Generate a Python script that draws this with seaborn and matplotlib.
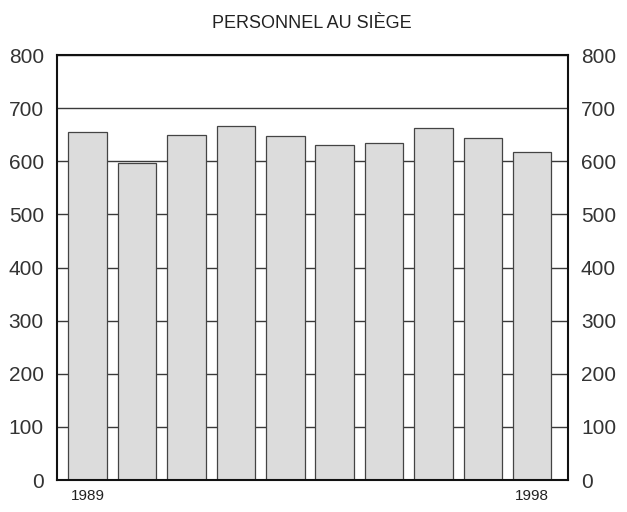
#!/usr/bin/env python3
"""
Staff at headquarters, 1989-1998 (bar chart).
"""
import matplotlib
matplotlib.use('Agg')
import matplotlib.pyplot as plt
import seaborn as sns

# Data
years = ['1989', '1990', '1991', '1992', '1993', '1994', '1995', '1996', '1997', '1998']
staff = [655, 597, 649, 667, 648, 631, 634, 662, 643, 618]
year_labels = ['1989', '', '', '', '', '', '', '', '', '1998']
y_ticks = [0, 100, 200, 300, 400, 500, 600, 700, 800]

TITLE = 'PERSONNEL AU SIÈGE'


def main():
    sns.set_style('white')
    plt.rcParams['font.family'] = ['Liberation Sans', 'DejaVu Sans']

    fig = plt.figure(figsize=(6.27, 5.12), dpi=100)
    ax = fig.add_axes([0.091, 0.0625, 0.8145, 0.83])

    sns.barplot(x=years, y=staff, color='#dcdcdc', saturation=1, width=0.78,
                edgecolor='#444444', linewidth=0.9, ax=ax, zorder=2)

    # Horizontal grid behind the bars
    ax.set_axisbelow(True)
    ax.yaxis.grid(True, color='#3a3a3a', linewidth=1.0)
    ax.xaxis.grid(False)

    ax.set_ylim(0, 800)
    ax.set_xlim(-0.62, 9.72)
    ax.set_yticks(y_ticks)
    ax.set_xticks(range(len(years)))
    ax.set_xticklabels(year_labels, fontsize=11, color='#222222')
    ax.set_xlabel('')
    ax.set_ylabel('')

    ax.tick_params(axis='y', left=False, right=False, labelleft=True,
                   labelright=True, labelsize=15, labelcolor='#333333', pad=6)
    ax.tick_params(axis='x', bottom=False, pad=3)

    for side in ['left', 'right', 'top', 'bottom']:
        ax.spines[side].set_visible(True)
        ax.spines[side].set_color('#111111')
        ax.spines[side].set_linewidth(1.5)

    fig.text(0.498, 0.955, TITLE, ha='center', va='center',
             fontsize=13, color='#222222')

    fig.savefig('out.png', dpi=100)
    plt.close(fig)


if __name__ == '__main__':
    main()
